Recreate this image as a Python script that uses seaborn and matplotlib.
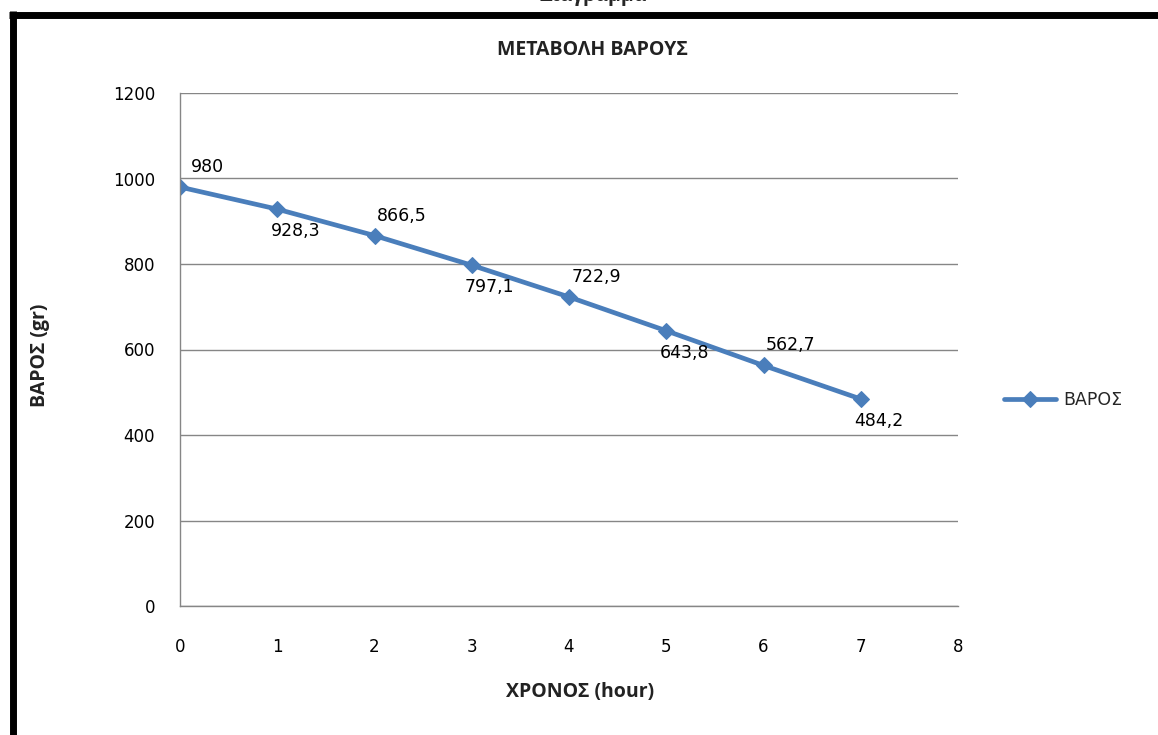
import matplotlib
matplotlib.use("Agg")
import matplotlib.pyplot as plt
from matplotlib.lines import Line2D
import seaborn as sns
import pandas as pd

# ---- data ----
hours = [0, 1, 2, 3, 4, 5, 6, 7]
weights = [980, 928.3, 866.5, 797.1, 722.9, 643.8, 562.7, 484.2]
value_labels = ["980", "928,3", "866,5", "797,1", "722,9", "643,8", "562,7", "484,2"]
series_name = "ΒΑΡΟΣ"
x_ticks = [0, 1, 2, 3, 4, 5, 6, 7, 8]
y_ticks = [0, 200, 400, 600, 800, 1000, 1200]
title_text = "ΜΕΤΑΒΟΛΗ ΒΑΡΟΥΣ"
x_label = "ΧΡΟΝΟΣ (hour)"
y_label = "ΒΑΡΟΣ (gr)"
caption_text = "Διάγραμμα"

df = pd.DataFrame({"hour": hours, "weight": weights})

sns.set_theme(style="white")
plt.rcParams["font.family"] = ["DejaVu Sans"]

W, H = 1158, 735
fig = plt.figure(figsize=(W / 100, H / 100), dpi=100)
fig.patch.set_facecolor("white")
ax = fig.add_axes([180 / W, 1 - 606 / H, 778 / W, 513 / H])

blue = "#4a7ebb"
grey = "#868686"

sns.lineplot(data=df, x="hour", y="weight", ax=ax, color=blue, linewidth=3.4,
             marker="D", markersize=8, markeredgecolor=blue, markerfacecolor=blue,
             label=series_name)

ax.set_xlim(0, 8)
ax.set_ylim(0, 1200)
ax.set_xticks(x_ticks)
ax.set_yticks(y_ticks)
ax.yaxis.grid(True, color=grey, linewidth=1.0)
ax.xaxis.grid(False)
for side in ["top", "right"]:
    ax.spines[side].set_visible(False)
for side in ["left", "bottom"]:
    ax.spines[side].set_color(grey)
    ax.spines[side].set_linewidth(1.0)
ax.tick_params(axis="x", direction="out", length=6, width=1, color=grey, pad=17,
               labelsize=12, labelcolor="black")
ax.tick_params(axis="y", direction="out", length=7, width=1, color=grey, pad=11,
               labelsize=12, labelcolor="black")

# data labels: alternating above / below
for i, (xv, yv, lab) in enumerate(zip(hours, weights, value_labels)):
    if i % 2 == 0:
        off = (27, 20)
    else:
        off = (18, -22)
    ax.annotate(lab, (xv, yv), textcoords="offset pixels", xytext=off,
                ha="center", va="center", fontsize=12.5, color="black")

label_font = dict(family=["Open Sans", "DejaVu Sans"], weight="bold", size=14)
ax.set_title(title_text, x=0.53, y=1.074, pad=0,
             fontdict=dict(family=["Open Sans", "DejaVu Sans"], weight="bold", size=14),
             color="#222222")
ax.set_xlabel(x_label, fontdict=label_font, color="#222222")
ax.set_ylabel(y_label, fontdict=label_font, color="#222222")
ax.xaxis.set_label_coords((580 - 180) / 778, (606 - 692) / 513)
ax.yaxis.set_label_coords((40 - 180) / 778, (606 - 355) / 513)
ax.xaxis.label.set_va("center")
ax.yaxis.label.set_va("center")

ax.legend(loc="center left", bbox_to_anchor=(1004 / W, 1 - 400 / H),
          bbox_transform=fig.transFigure, frameon=False, fontsize=12.5,
          handlelength=3.0, handletextpad=0.4, borderpad=0, borderaxespad=0)

# black frame edges (left and top) of the outer document box
fig.add_artist(Line2D([12.5 / W, 12.5 / W], [0, 1 - 11 / H], transform=fig.transFigure,
                      color="black", linewidth=5.0, solid_capstyle="butt"))
fig.add_artist(Line2D([9 / W, 1], [1 - 14.5 / H, 1 - 14.5 / H], transform=fig.transFigure,
                      color="black", linewidth=5.0, solid_capstyle="butt"))

# caption cut off by the top edge
fig.text(593 / W, 1 - 1 / H, caption_text, ha="center", va="baseline",
         fontsize=14, weight="bold", family=["Open Sans", "DejaVu Sans"])

fig.savefig("out.png", dpi=100, facecolor="white")
